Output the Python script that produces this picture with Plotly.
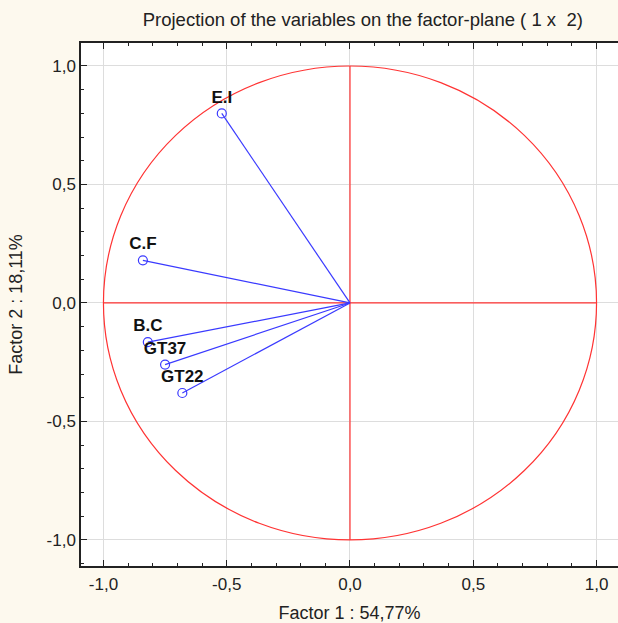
import plotly.graph_objects as go

labels = ["E.I", "C.F", "B.C", "GT37", "GT22"]
factor1 = [-0.52, -0.84, -0.82, -0.75, -0.68]
factor2 = [0.80, 0.18, -0.165, -0.26, -0.38]

tick_vals = [-1.0, -0.5, 0.0, 0.5, 1.0]
tick_text = ["-1,0", "-0,5", "0,0", "0,5", "1,0"]

title = "Projection of the variables on the factor-plane (\u00a01\u00a0x\u00a0\u00a02)"
x_title = "Factor 1 : 54,77%"
y_title = "Factor 2 : 18,11%"

bg = "#fdf9ee"
red = "#ff3333"
blue = "#3a3aff"
txt = "#222222"
font_family = "Liberation Sans, Arial, sans-serif"
fs = 17

fig = go.Figure()

# vectors from origin
for x, y in zip(factor1, factor2):
    fig.add_trace(go.Scatter(x=[0, x], y=[0, y], mode="lines",
                             line=dict(color=blue, width=1.2),
                             hoverinfo="skip", showlegend=False))

fig.add_trace(go.Scatter(
    x=factor1, y=factor2, mode="markers+text", text=labels,
    textposition="top center",
    textfont=dict(family=font_family, size=fs, color="#111111", weight="bold"),
    marker=dict(symbol="circle-open", size=9, color=blue, line=dict(width=1.2)),
    showlegend=False))

shapes = [
    dict(type="circle", xref="x", yref="y", x0=-1, y0=-1, x1=1, y1=1,
         line=dict(color=red, width=1.2), layer="between"),
    dict(type="line", xref="x", yref="y", x0=-1, y0=0, x1=1, y1=0,
         line=dict(color=red, width=1.2), layer="between"),
    dict(type="line", xref="x", yref="y", x0=0, y0=-1, x1=0, y1=1,
         line=dict(color=red, width=1.2), layer="between"),
]

fig.update_layout(
    width=618, height=623,
    paper_bgcolor=bg, plot_bgcolor="white",
    margin=dict(l=81, r=0, t=43, b=57, autoexpand=False),
    font=dict(family=font_family, size=fs, color=txt),
    separators=", ",
    title=dict(text=title, x=0.587, xanchor="center", y=0.968, yanchor="middle",
               font=dict(size=18.5, color=txt), automargin=False),
    shapes=shapes,
    xaxis=dict(range=[-1.091, 1.087], tickvals=tick_vals, ticktext=tick_text,
               automargin=False,
               showgrid=True, gridcolor="#dddddd", gridwidth=1, zeroline=False,
               showline=True, linecolor="#222222", linewidth=1.5, mirror="ticks",
               ticks="inside", ticklen=6, tickcolor="#222222",
               minor=dict(dtick=0.1, ticks="inside", ticklen=3, tickcolor="#222222",
                          showgrid=False),
               tickfont=dict(size=fs, color=txt), ticklabelstandoff=2,
               title=dict(text=x_title, font=dict(size=18, color=txt), standoff=16)),
    yaxis=dict(range=[-1.110, 1.097], tickvals=tick_vals, ticktext=tick_text,
               automargin=False,
               showgrid=True, gridcolor="#dddddd", gridwidth=1, zeroline=False,
               showline=True, linecolor="#222222", linewidth=1.5, mirror=False,
               ticks="inside", ticklen=6, tickcolor="#222222",
               minor=dict(dtick=0.1, ticks="inside", ticklen=3, tickcolor="#222222",
                          showgrid=False),
               tickfont=dict(size=fs, color=txt),
               title=dict(text=y_title, font=dict(size=18, color=txt), standoff=19)),
)

fig.write_html("out.html", config={"displayModeBar": False},
               post_script="document.body.style.margin='0';document.body.style.overflow='hidden';")
